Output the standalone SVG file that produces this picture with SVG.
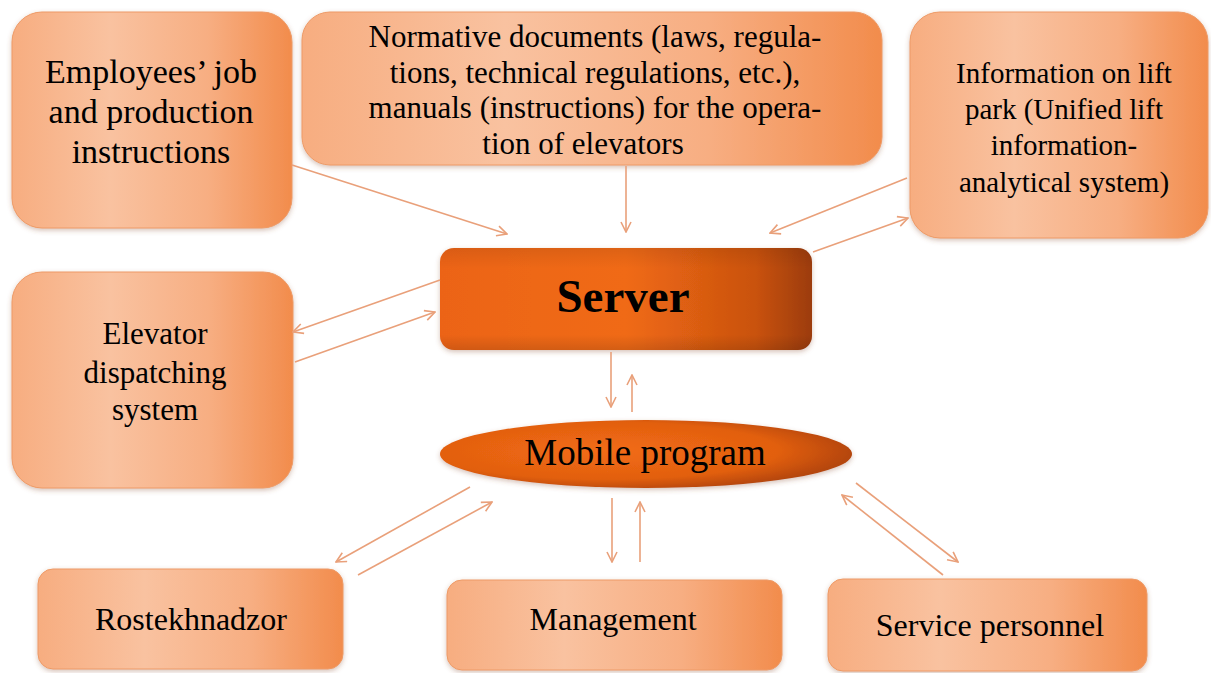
<svg xmlns="http://www.w3.org/2000/svg" width="1211" height="673" viewBox="0 0 1211 673">
<defs>
<linearGradient id="gBox" x1="0" y1="0" x2="1" y2="0">
<stop offset="0" stop-color="#f7ad80"/>
<stop offset="0.35" stop-color="#f9c2a0"/>
<stop offset="0.7" stop-color="#f7ae82"/>
<stop offset="1" stop-color="#f28c4c"/>
</linearGradient>
<linearGradient id="gServer" x1="0" y1="0" x2="1" y2="0">
<stop offset="0" stop-color="#ec6414"/>
<stop offset="0.5" stop-color="#f06a14"/>
<stop offset="0.85" stop-color="#c9520f"/>
<stop offset="1" stop-color="#9c3c10"/>
</linearGradient>
<linearGradient id="gServerV" x1="0" y1="0" x2="0" y2="1">
<stop offset="0" stop-color="#000" stop-opacity="0.08"/>
<stop offset="0.2" stop-color="#000" stop-opacity="0"/>
<stop offset="0.85" stop-color="#000" stop-opacity="0"/>
<stop offset="1" stop-color="#000" stop-opacity="0.12"/>
</linearGradient>
<radialGradient id="gEll" cx="0.4" cy="0.45" r="0.6">
<stop offset="0" stop-color="#f26c14"/>
<stop offset="0.7" stop-color="#e25f10"/>
<stop offset="1" stop-color="#b5460f"/>
</radialGradient>
<filter id="sh" x="-10%" y="-10%" width="120%" height="125%">
<feDropShadow dx="0" dy="2" stdDeviation="2.5" flood-color="#8a5030" flood-opacity="0.35"/>
</filter>
<marker id="ah" viewBox="0 0 12 12" refX="11" refY="6" markerWidth="12" markerHeight="12" markerUnits="userSpaceOnUse" orient="auto">
<path d="M1,1 L11,6 L1,11" fill="none" stroke="#e9a07a" stroke-width="1.6"/>
</marker>
</defs>
<style>
.box{fill:url(#gBox);stroke:#ee9a66;stroke-width:1;filter:url(#sh)}
.t{fill:#000;text-anchor:middle}
.c{stroke:#e9a07a;stroke-width:1.6;fill:none;marker-end:url(#ah)}
</style>
<rect width="1211" height="673" fill="#ffffff"/>

<g font-family="'Liberation Serif', 'Times New Roman', Tinos, 'Nimbus Roman', serif">
<g id="employees">
<rect class="box" x="12" y="12" width="280" height="216" rx="30"/>
<text class="t" font-size="34" x="151" y="83">Employees’ job</text>
<text class="t" font-size="34" x="151" y="123">and production</text>
<text class="t" font-size="34" x="151" y="163">instructions</text>
</g>

<g id="normative">
<rect class="box" x="302" y="12" width="580" height="153" rx="28"/>
<text class="t" font-size="31" x="595" y="47">Normative documents (laws, regula-</text>
<text class="t" font-size="31" x="595" y="83">tions, technical regulations, etc.),</text>
<text class="t" font-size="31" x="595" y="118">manuals (instructions) for the opera-</text>
<text class="t" font-size="31" x="583" y="154">tion of elevators</text>
</g>

<g id="info">
<rect class="box" x="910" y="12" width="298" height="226" rx="30"/>
<text class="t" font-size="29" x="1064" y="83">Information on lift</text>
<text class="t" font-size="29" x="1064" y="119">park (Unified lift</text>
<text class="t" font-size="29" x="1064" y="155">information-</text>
<text class="t" font-size="29" x="1064" y="192">analytical system)</text>
</g>

<g id="server">
<rect x="440" y="248" width="372" height="102" rx="14" fill="url(#gServer)" filter="url(#sh)"/>
<rect x="440" y="248" width="372" height="102" rx="14" fill="url(#gServerV)"/>
<text class="t" font-size="47" font-weight="bold" x="623" y="312">Server</text>
</g>

<g id="elevator">
<rect class="box" x="12" y="272" width="281" height="216" rx="30"/>
<text class="t" font-size="31" x="155" y="344">Elevator</text>
<text class="t" font-size="31" x="155" y="383">dispatching</text>
<text class="t" font-size="31" x="155" y="420">system</text>
</g>

<g id="mobile">
<ellipse cx="646" cy="454" rx="206" ry="34" fill="url(#gEll)" filter="url(#sh)"/>
<text class="t" font-size="37" x="645" y="465">Mobile program</text>
</g>

<g id="rostekhnadzor">
<rect class="box" x="38" y="569" width="305" height="100" rx="15"/>
<text class="t" font-size="32" x="191" y="630">Rostekhnadzor</text>
</g>

<g id="management">
<rect class="box" x="447" y="580" width="335" height="90" rx="15"/>
<text class="t" font-size="32" x="613" y="630">Management</text>
</g>

<g id="service">
<rect class="box" x="828" y="579" width="319" height="92" rx="15"/>
<text class="t" font-size="32" x="990" y="636">Service personnel</text>
</g>
</g>

<g id="connectors">
<line class="c" x1="292" y1="165" x2="507" y2="234"/>
<line class="c" x1="626" y1="166" x2="626" y2="232"/>
<line class="c" x1="907" y1="178" x2="770" y2="233"/>
<line class="c" x1="813" y1="252" x2="908" y2="218"/>
<line class="c" x1="440" y1="280" x2="293" y2="332"/>
<line class="c" x1="295" y1="362" x2="435" y2="312"/>
<line class="c" x1="611" y1="352" x2="611" y2="407"/>
<line class="c" x1="632" y1="412" x2="632" y2="375"/>
<line class="c" x1="470" y1="487" x2="336" y2="562"/>
<line class="c" x1="358" y1="575" x2="492" y2="502"/>
<line class="c" x1="612" y1="498" x2="612" y2="562"/>
<line class="c" x1="640" y1="562" x2="640" y2="502"/>
<line class="c" x1="943" y1="575" x2="842" y2="495"/>
<line class="c" x1="856" y1="483" x2="958" y2="562"/>
</g>
</svg>
